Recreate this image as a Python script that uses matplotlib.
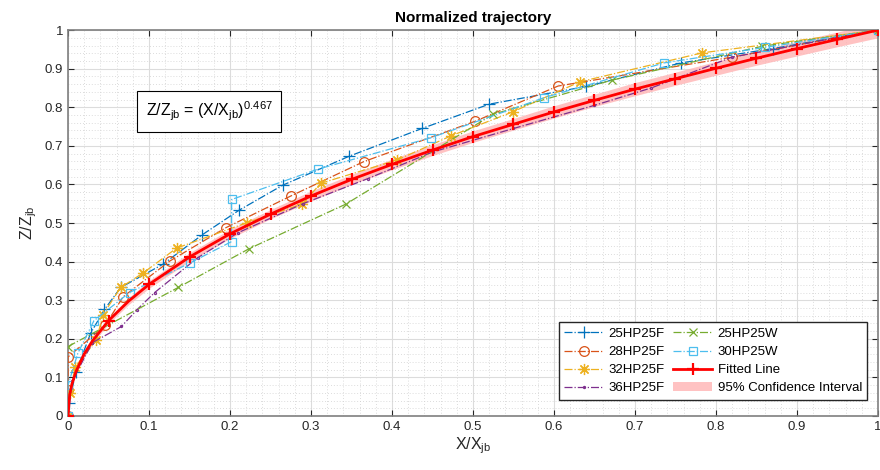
import matplotlib.pyplot as plt
import numpy as np

plt.rcParams["font.family"] = ["Liberation Sans", "DejaVu Sans"]
plt.rcParams["mathtext.fontset"] = "custom"
plt.rcParams["mathtext.rm"] = "Liberation Sans"

# measured trajectories (normalized)
x_25hp25f = [0, 0.001, 0.01, 0.028, 0.045, 0.065, 0.117, 0.166, 0.211, 0.265, 0.347, 0.437, 0.52, 0.64, 0.757, 0.87, 1.0]
z_25hp25f = [0, 0.034, 0.115, 0.215, 0.276, 0.333, 0.393, 0.47, 0.533, 0.598, 0.673, 0.745, 0.808, 0.854, 0.915, 0.952, 1.0]

x_28hp25f = [0, 0, 0, 0.046, 0.068, 0.126, 0.195, 0.275, 0.365, 0.503, 0.605, 0.82, 1.0]
z_28hp25f = [0, 0.067, 0.153, 0.235, 0.309, 0.402, 0.488, 0.57, 0.659, 0.764, 0.855, 0.93, 1.0]

x_32hp25f = [0, 0.002, 0.009, 0.035, 0.043, 0.065, 0.093, 0.134, 0.221, 0.289, 0.312, 0.406, 0.473, 0.549, 0.632, 0.783, 1.0]
z_32hp25f = [0, 0.06, 0.128, 0.196, 0.262, 0.333, 0.371, 0.435, 0.501, 0.549, 0.603, 0.663, 0.726, 0.788, 0.866, 0.941, 1.0]

x_36hp25f = [0, 0.005, 0.03, 0.066, 0.085, 0.107, 0.16, 0.21, 0.29, 0.37, 0.45, 0.55, 0.65, 0.72, 0.82, 1.0]
z_36hp25f = [0, 0.09, 0.19, 0.232, 0.275, 0.32, 0.41, 0.475, 0.55, 0.615, 0.684, 0.745, 0.805, 0.85, 0.93, 1.0]

x_25hp25w = [0, 0.136, 0.224, 0.343, 0.525, 0.671, 0.857, 1.0]
z_25hp25w = [0.18, 0.333, 0.434, 0.549, 0.782, 0.87, 0.958, 1.0]

x_30hp25w = [0, 0, 0.012, 0.032, 0.076, 0.151, 0.202, 0.202, 0.309, 0.448, 0.588, 0.736, 0.86, 1.0]
z_30hp25w = [0, 0.08, 0.162, 0.247, 0.32, 0.397, 0.452, 0.561, 0.64, 0.721, 0.825, 0.915, 0.955, 1.0]

# fitted power law Z/Zjb = (X/Xjb)^0.467
x_fit = [0, 0.002, 0.005, 0.01, 0.02, 0.03, 0.05, 0.075, 0.1, 0.15, 0.2, 0.25, 0.3, 0.35, 0.4, 0.45,
         0.5, 0.55, 0.6, 0.65, 0.7, 0.75, 0.8, 0.85, 0.9, 0.95, 1.0]
z_fit = [0, 0.055, 0.084, 0.116, 0.161, 0.194, 0.247, 0.298, 0.341, 0.412, 0.472, 0.523, 0.570, 0.613,
         0.652, 0.689, 0.724, 0.756, 0.788, 0.818, 0.847, 0.874, 0.901, 0.927, 0.952, 0.976, 1.0]
# half width of the 95% confidence band
ci_half = [0, 0.003, 0.004, 0.005, 0.006, 0.007, 0.008, 0.009, 0.01, 0.011, 0.012, 0.012, 0.013, 0.013,
           0.014, 0.014, 0.015, 0.015, 0.016, 0.016, 0.017, 0.017, 0.018, 0.018, 0.019, 0.019, 0.02]
fit_marker_idx = [0, 6] + list(range(8, 27))

ASTERISK = (8, 2, 0)
series = [
    ("25HP25F", x_25hp25f, z_25hp25f, "#0072BD", "+", 8),
    ("28HP25F", x_28hp25f, z_28hp25f, "#D95319", "o", 7),
    ("32HP25F", x_32hp25f, z_32hp25f, "#EDB120", ASTERISK, 8),
    ("36HP25F", x_36hp25f, z_36hp25f, "#7E2F8E", ".", 3),
    ("25HP25W", x_25hp25w, z_25hp25w, "#77AC30", "x", 6),
    ("30HP25W", x_30hp25w, z_30hp25w, "#4DBEEE", "s", 6),
]

fig = plt.figure(figsize=(8.8, 4.7), dpi=100)
ax = fig.add_axes([0.0773, 0.1149, 0.9204, 0.8211])

handles = []
for name, xs, zs, color, marker, ms in series:
    h, = ax.plot(xs, zs, linestyle="-.", color=color, linewidth=0.9, marker=marker,
                 markersize=ms, markerfacecolor="none", markeredgewidth=0.9, label=name, zorder=3)
    handles.append(h)

lo = np.array(z_fit) - np.array(ci_half)
hi = np.array(z_fit) + np.array(ci_half)
band = ax.fill_between(x_fit, lo, hi, color="#FFB3B3", alpha=0.8, linewidth=0, zorder=2,
                       label="95% Confidence Interval")
fit, = ax.plot(x_fit, z_fit, color="red", linewidth=2, marker="+", markersize=8, markeredgewidth=1.6,
               markevery=fit_marker_idx, label="Fitted Line", zorder=4)

ax.set_xlim(0, 1)
ax.set_ylim(0, 1)
ticks = np.round(np.arange(0, 1.01, 0.1), 1)
labels = ["0"] + [f"{t:g}" for t in ticks[1:-1]] + ["1"]
ax.set_xticks(ticks)
ax.set_xticklabels(labels)
ax.set_yticks(ticks)
ax.set_yticklabels(labels)
ax.set_xticks(np.arange(0, 1.001, 0.02), minor=True)
ax.set_yticks(np.arange(0, 1.001, 0.02), minor=True)
ax.tick_params(which="both", direction="in", top=True, right=True, labelsize=9.5, colors="#262626")
ax.tick_params(which="major", length=4)
ax.tick_params(which="minor", length=0)
ax.grid(which="major", color="#DCDCDC", linewidth=0.8)
ax.grid(which="minor", color="#D0D0D0", linewidth=0.6, linestyle=(0, (1, 2.5)))
ax.set_axisbelow(True)
for s in ax.spines.values():
    s.set_color("#7F7F7F")
    s.set_linewidth(1.2)

ax.set_xlabel(r"X/X$_{\mathrm{jb}}$", fontsize=11.5, color="#262626", labelpad=2)
ax.set_ylabel(r"Z/Z$_{\mathrm{jb}}$", fontsize=11.5, color="#262626", labelpad=4)
ax.set_title("Normalized trajectory", fontsize=11, fontweight="bold", pad=6)

ax.text(0.096, 0.79, r"Z/Z$_{\mathrm{jb}}$ = (X/X$_{\mathrm{jb}}$)$^{0.467}$", fontsize=11.5,
        va="center", ha="left",
        bbox=dict(boxstyle="square,pad=0.55", facecolor="white", edgecolor="black", linewidth=0.8))

order = handles + [fit, band]
ax.legend(order, [h.get_label() for h in order], ncol=2, loc="lower right",
          bbox_to_anchor=(0.995, 0.025), fontsize=9.5, frameon=True, fancybox=False,
          edgecolor="#262626", framealpha=1, handlelength=3.0, columnspacing=0.6,
          labelspacing=0.45, borderpad=0.4, handletextpad=0.4)

fig.savefig("out.png", dpi=100)
